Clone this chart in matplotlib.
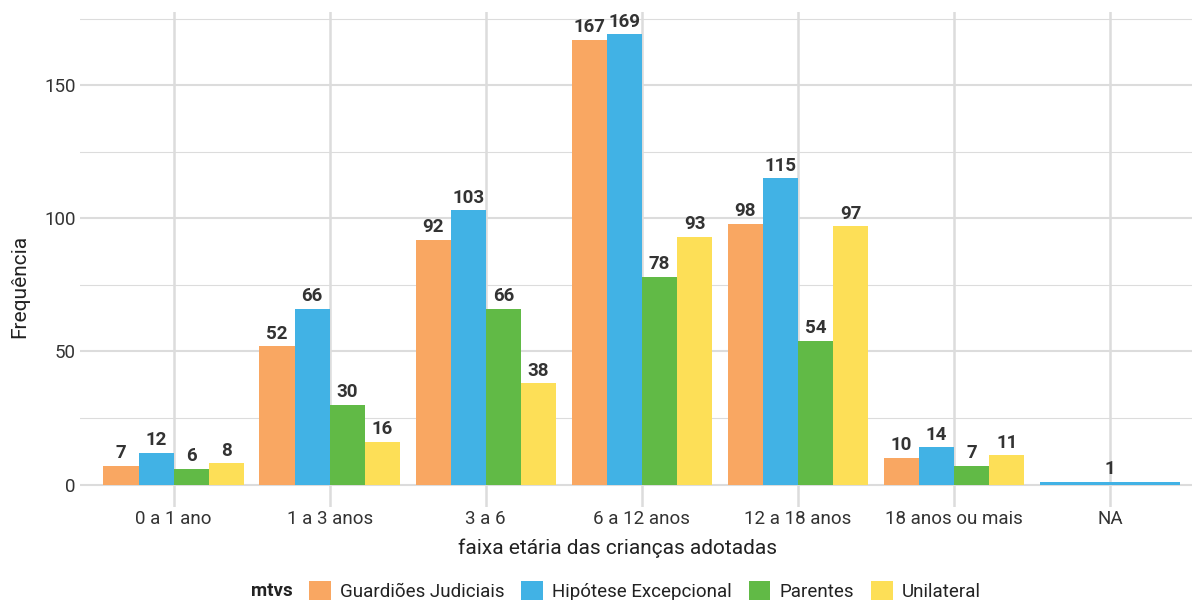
import numpy as np
import matplotlib.pyplot as plt
from matplotlib.patches import Patch

categories = ["0 a 1 ano", "1 a 3 anos", "3 a 6", "6 a 12 anos",
              "12 a 18 anos", "18 anos ou mais", "NA"]
series = ["Guardiões Judiciais", "Hipótese Excepcional", "Parentes", "Unilateral"]
colors = ["#F9A762", "#41B2E5", "#61BA46", "#FDDF57"]

guardioes = [7, 52, 92, 167, 98, 10, None]
hipotese = [12, 66, 103, 169, 115, 14, 1]
parentes = [6, 30, 66, 78, 54, 7, None]
unilateral = [8, 16, 38, 93, 97, 11, None]
values = [guardioes, hipotese, parentes, unilateral]

plt.rcParams['font.family'] = ['Roboto', 'DejaVu Sans']

fig = plt.figure(figsize=(11.92, 6), dpi=100)
ax = fig.add_axes([80 / 1192, 93 / 600, 1112 / 1192, 495 / 600])

x = np.arange(1, len(categories) + 1)
group_w = 0.9
txt_col = "#333333"

for i, cat in enumerate(categories):
    present = [s for s in range(len(series)) if values[s][i] is not None]
    n = len(present)
    w = group_w / n
    for k, s in enumerate(present):
        v = values[s][i]
        xc = x[i] - group_w / 2 + w * (k + 0.5)
        ax.bar(xc, v, width=w, color=colors[s], zorder=3, linewidth=0)
        ax.annotate(str(v), (xc, v), xytext=(0, 2.5), textcoords="offset points",
                    ha="center", va="bottom", fontsize=13.5, fontweight="bold",
                    color=txt_col, zorder=4)

ax.set_xlim(0.4, 7.525)
ax.set_ylim(-8.45, 177.45)
ax.set_yticks([0, 50, 100, 150])
ax.set_yticks([25, 75, 125, 175], minor=True)
ax.set_xticks(x)
ax.set_xticklabels(categories)
ax.grid(axis="y", which="major", color="#DCDCDC", linewidth=1.5, zorder=0)
ax.grid(axis="y", which="minor", color="#DCDCDC", linewidth=0.8, zorder=0)
ax.grid(axis="x", which="major", color="#DCDCDC", linewidth=1.8, zorder=0)
for sp in ax.spines.values():
    sp.set_visible(False)
ax.tick_params(axis="both", which="both", length=0, labelsize=13.5, colors=txt_col)
ax.tick_params(axis="y", pad=3)
ax.tick_params(axis="x", pad=2)

fig.text(618 / 1192, 1 - 548 / 600, "faixa etária das crianças adotadas",
         ha="center", va="center", fontsize=15, color="#222222")
fig.text(20 / 1192, 1 - 286 / 600, "Frequência", ha="center", va="center",
         rotation=90, fontsize=15, color="#222222")

handles = [Patch(facecolor=c, edgecolor="none") for c in colors]
fig.text(272 / 1192, 1 - 591 / 600, "mtvs", ha="center", va="center",
         fontsize=13.5, fontweight="bold", color="#222222")
fig.legend(handles, series, ncol=4, loc="center",
           bbox_to_anchor=(645 / 1192, 1 - 591 / 600), frameon=False,
           fontsize=13.5, handlelength=1.15, handleheight=1.15,
           handletextpad=0.5, columnspacing=0.9, labelcolor="#222222")

fig.savefig("out.png", dpi=100)
